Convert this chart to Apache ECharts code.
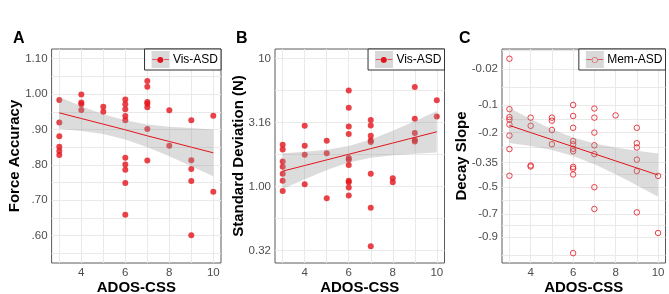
<!DOCTYPE html>
<html><head><meta charset="utf-8">
<script src="https://cdn.jsdelivr.net/npm/echarts@6/dist/echarts.min.js"></script>
<style>html,body{margin:0;padding:0;background:#fff}#c{width:669px;height:294px}</style>
</head><body><div id="c"></div>
<script>
// ---------- data ----------
const xTickLabels = [4, 6, 8, 10];
const xGridValues = [3, 4, 5, 6, 7, 8, 9, 10];

// Panel A: Force Accuracy vs ADOS-CSS (Vis-ASD)
const adosA = [3,3,3,3,3,3, 4,4,4,4, 5,5, 6,6,6,6,6,6,6,6,6,6, 7,7,7,7,7,7,7, 8,8, 9,9,9,9,9, 10,10];
const accA  = [0.983,0.920,0.881,0.851,0.839,0.828, 0.999,0.976,0.971,0.955, 0.964,0.950,
  0.985,0.971,0.957,0.938,0.926,0.820,0.801,0.786,0.749,0.659,
  1.037,1.021,0.978,0.973,0.963,0.901,0.812, 0.954,0.854, 0.926,0.813,0.788,0.754,0.601, 0.939,0.724];
const yTicksA = [0.6, 0.7, 0.8, 0.9, 1.0, 1.1];
const yLabelsA = ['.60', '.70', '.80', '.90', '1.00', '1.10'];
const fitX = [3, 4, 5, 6, 7, 8, 9, 10];
const fitA = [0.947, 0.931, 0.915, 0.899, 0.882, 0.866, 0.850, 0.834];
const upperA = [0.992, 0.966, 0.943, 0.926, 0.914, 0.908, 0.904, 0.900];
const lowerA = [0.902, 0.896, 0.887, 0.872, 0.850, 0.824, 0.796, 0.768];

// Panel B: Standard Deviation (N), log10 scale
const adosB = [3,3,3,3,3,3,3, 4,4,4,4, 5,5,5, 6,6,6,6,6,6,6,6,6,6,6, 7,7,7,7,7,7,7,7, 8,8, 9,9,9,9,9, 10,10];
const sdB   = [2.12,1.95,1.57,1.43,1.26,1.11,0.92, 2.99,2.08,1.77,1.04, 2.28,1.82,0.81,
  5.65,4.13,2.95,2.57,1.67,1.62,1.47,1.11,1.08,0.98,0.85,
  3.31,3.00,2.49,2.29,2.23,1.26,0.68,0.34, 1.16,1.08, 6.00,3.39,2.62,2.32,2.25, 4.72,3.53];
const yTicksB = [0.3162, 1, 3.162, 10];
const yLabelsB = ['0.32', '1.00', '3.16', '10'];
const fitLogB = [0.120, 0.164, 0.208, 0.252, 0.296, 0.340, 0.384, 0.428];
const upperLogB = [0.260, 0.271, 0.288, 0.317, 0.368, 0.436, 0.511, 0.590];
const lowerLogB = [-0.020, 0.057, 0.128, 0.187, 0.224, 0.244, 0.257, 0.266];

// Panel C: Decay Slope (Mem-ASD), reversed square-root scale
const adosC = [3,3,3,3,3,3,3,3, 4,4,4,4, 5,5,5,5, 6,6,6,6,6,6,6,6,6,6,6, 7,7,7,7,7,7,7, 8, 9,9,9,9,9,9, 10,10];
const slopeC = [-0.0086,-0.112,-0.139,-0.148,-0.167,-0.213,-0.277,-0.428,
  -0.141,-0.172,-0.366,-0.372, -0.141,-0.152,-0.189,-0.253,
  -0.099,-0.135,-0.180,-0.238,-0.253,-0.276,-0.288,-0.374,-0.385,-0.420,-1.052,
  -0.110,-0.141,-0.200,-0.258,-0.303,-0.503,-0.662, -0.133,
  -0.180,-0.248,-0.269,-0.333,-0.399,-0.689, -0.429,-0.863];
const yTicksC = [-0.02, -0.1, -0.2, -0.35, -0.5, -0.7, -0.9];
const yLabelsC = ['-0.02', '-0.1', '-0.2', '-0.35', '-0.5', '-0.7', '-0.9'];
// fit and band in sqrt(-slope) units
const fitSqrtC = [0.413, 0.447, 0.481, 0.515, 0.549, 0.583, 0.617, 0.651];
const upperSqrtC = [0.329, 0.382, 0.431, 0.471, 0.499, 0.519, 0.534, 0.547];
const lowerSqrtC = [0.497, 0.512, 0.531, 0.559, 0.599, 0.647, 0.700, 0.755];

// ---------- transforms ----------
const tLog = v => Math.log10(v);
const tSq = v => -Math.sqrt(-v);
function withMinors(major, lo, hi) {
  const out = major.slice();
  const d0 = major[1] - major[0];
  const ext = [major[0] - d0].concat(major, [major[major.length - 1] + d0]);
  for (let i = 0; i < ext.length - 1; i++) {
    const m = (ext[i] + ext[i + 1]) / 2;
    if (m > lo && m < hi) out.push(m);
  }
  return out.sort((a, b) => a - b);
}
function lookup(pos, labels) {
  return v => { for (let i = 0; i < pos.length; i++) if (Math.abs(pos[i] - v) < 1e-6) return labels[i]; return ''; };
}

const RED = '#e3141b';
const BAND = 'rgba(150,150,150,0.33)';
const GRIDC = '#e9e9e9';
const FONT = 'Liberation Sans';

const posA = yTicksA;
const posB = yTicksB.map(tLog);
const posC = yTicksC.map(tSq);
const yRange = [[0.5225, 1.1275], [-0.599, 1.076], [-1.073, -0.046]];

const grids = [
  {left: 51.6, top: 49, width: 169.4, height: 214},
  {left: 275, top: 49, width: 169.5, height: 214},
  {left: 502, top: 49, width: 163.5, height: 214}
].map(g => Object.assign(g, {show: true, borderColor: '#5a5a5a', borderWidth: 1, backgroundColor: '#fff',
  containLabel: false, outerBoundsMode: 'none'}));

const xAxes = [0, 1, 2].map(i => ({
  type: 'value', gridIndex: i, min: 2.65, max: 10.35,
  axisLine: {show: false},
  axisTick: {show: true, length: 0, lineStyle: {color: 'rgba(0,0,0,0)'}, customValues: xGridValues},
  axisLabel: {customValues: xTickLabels, fontSize: 11.5, color: '#4d4d4d', margin: 4, fontFamily: FONT},
  splitLine: {show: true, lineStyle: {color: GRIDC, width: 1}},
  name: 'ADOS-CSS', nameLocation: 'middle', nameGap: 17, nameMoveOverlap: false,
  nameTextStyle: {fontSize: 15, fontWeight: 'bold', color: '#000', fontFamily: FONT}
}));

const yNames = ['Force Accuracy', 'Standard Deviation (N)', 'Decay Slope'];
const yPos = [posA, posB, posC];
const yLab = [yLabelsA, yLabelsB, yLabelsC];
const yGaps = [29, 29, 33];
const yAxes = [0, 1, 2].map(i => ({
  type: 'value', gridIndex: i, min: yRange[i][0], max: yRange[i][1],
  axisLine: {show: false},
  axisTick: {show: true, length: 0, lineStyle: {color: 'rgba(0,0,0,0)'}, customValues: withMinors(yPos[i], yRange[i][0], yRange[i][1])},
  axisLabel: {customValues: yPos[i], formatter: lookup(yPos[i], yLab[i]), fontSize: 11.5, color: '#4d4d4d', margin: 4, fontFamily: FONT},
  splitLine: {show: true, lineStyle: {color: GRIDC, width: 1}},
  name: yNames[i], nameLocation: 'middle', nameGap: yGaps[i], nameRotate: 90, nameMoveOverlap: false,
  nameTextStyle: {fontSize: 15, fontWeight: 'bold', color: '#000', fontFamily: FONT}
}));

function bandSeries(idx, up, lo) {
  return {
    type: 'custom', xAxisIndex: idx, yAxisIndex: idx, z: 3, silent: true,
    data: fitX.map((x, i) => [x, up[i]]),
    renderItem: (params, api) => {
      if (params.dataIndex !== 0) return null;
      const pts = [];
      for (let i = 0; i < fitX.length; i++) pts.push(api.coord([fitX[i], up[i]]));
      for (let i = fitX.length - 1; i >= 0; i--) pts.push(api.coord([fitX[i], lo[i]]));
      return {type: 'polygon', shape: {points: pts}, style: {fill: BAND, stroke: null}};
    }
  };
}
function fitSeries(idx, name, ys) {
  return {
    type: 'line', name: name, xAxisIndex: idx, yAxisIndex: idx, z: 4,
    data: fitX.map((x, i) => [x, ys[i]]), showSymbol: false, symbol: 'none',
    lineStyle: {color: RED, width: 1}, itemStyle: {color: RED}
  };
}

const series = [
  {type: 'scatter', xAxisIndex: 0, yAxisIndex: 0, z: 2, symbol: 'circle', symbolSize: 6,
   itemStyle: {color: RED}, data: adosA.map((x, i) => [x, accA[i]])},
  bandSeries(0, upperA, lowerA),
  fitSeries(0, 'Vis-ASD', fitA),
  {type: 'scatter', xAxisIndex: 1, yAxisIndex: 1, z: 2, symbol: 'circle', symbolSize: 6,
   itemStyle: {color: RED}, data: adosB.map((x, i) => [x, tLog(sdB[i])])},
  bandSeries(1, upperLogB, lowerLogB),
  fitSeries(1, 'Vis-ASD', fitLogB),
  {type: 'scatter', xAxisIndex: 2, yAxisIndex: 2, z: 2, symbol: 'circle', symbolSize: 5.5,
   itemStyle: {color: 'rgba(0,0,0,0)', borderColor: RED, borderWidth: 1}, data: adosC.map((x, i) => [x, tSq(slopeC[i])])},
  bandSeries(2, upperSqrtC.map(t => -t), lowerSqrtC.map(t => -t)),
  fitSeries(2, 'Mem-ASD', fitSqrtC.map(t => -t))
];

function legendFor(name, rightEdge, glyph) {
  return {
    data: [{name: name, icon: 'none'}], right: 669 - rightEdge, top: 49,
    orient: 'horizontal', itemWidth: 0, itemHeight: 13, itemGap: 0,
    padding: [2, 3, 2, 2], borderColor: '#333', borderWidth: 1, backgroundColor: '#fff',
    selectedMode: false,
    formatter: n => '{k|' + glyph + '}{t| ' + n + '}',
    textStyle: {
      fontFamily: FONT, fontSize: 12, color: '#000',
      rich: {
        k: {backgroundColor: '#d9d9d9', color: RED, fontSize: 8, width: 18, height: 17, lineHeight: 17, align: 'center', fontFamily: 'DejaVu Sans'},
        t: {fontSize: 12, color: '#000', fontFamily: FONT}
      }
    }
  };
}

const option = {
  animation: false,
  backgroundColor: '#fff',
  title: [
    {text: 'A', left: 8, top: 26, textStyle: {fontSize: 16, fontWeight: 'bold', color: '#000', fontFamily: FONT}},
    {text: 'B', left: 231, top: 26, textStyle: {fontSize: 16, fontWeight: 'bold', color: '#000', fontFamily: FONT}},
    {text: 'C', left: 454, top: 26, textStyle: {fontSize: 16, fontWeight: 'bold', color: '#000', fontFamily: FONT}}
  ],
  legend: [legendFor('Vis-ASD', 221, '─●─'), legendFor('Vis-ASD', 444.5, '─●─'), legendFor('Mem-ASD', 665.5, '─○─')],
  grid: grids, xAxis: xAxes, yAxis: yAxes, series: series
};
const chart = echarts.init(document.getElementById('c'), null, {renderer: 'canvas'});
chart.setOption(option);
</script></body></html>
